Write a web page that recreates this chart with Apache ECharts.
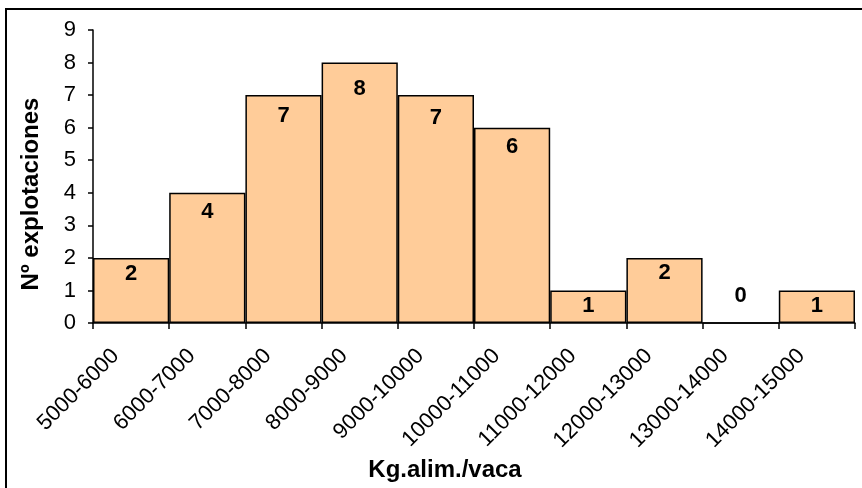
<!DOCTYPE html>
<html>
<head>
<meta charset="utf-8">
<script src="https://cdn.jsdelivr.net/npm/echarts@6/dist/echarts.min.js"></script>
<style>
  html, body { margin: 0; padding: 0; background: #fff; }
  #chart { width: 862px; height: 488px; }
</style>
</head>
<body>
<div id="chart"></div>
<script>
// Feed-per-cow ranges (kg) and number of farms in each range
const categories = ['5000-6000', '6000-7000', '7000-8000', '8000-9000', '9000-10000',
                    '10000-11000', '11000-12000', '12000-13000', '13000-14000', '14000-15000'];
const farms = [2, 4, 7, 8, 7, 6, 1, 2, 0, 1];
const yTicks = [0, 1, 2, 3, 4, 5, 6, 7, 8, 9];

// gap (px) between each bar's top and its value label
const labelGap = [5, 8, 10, 15, 12, 8, 4, 4, 15, 4];

const FONT = '"Liberation Sans", Arial, sans-serif';

const chart = echarts.init(document.getElementById('chart'), null, { renderer: 'canvas' });

const barData = farms.map((v, i) => {
  const item = { value: v, label: { distance: labelGap[i] } };
  if (v === 0) {
    // an empty bar keeps its label floating above the axis
    item.label.position = 'top';
  }
  return item;
});

chart.setOption({
  animation: false,
  backgroundColor: '#ffffff',
  grid: { left: 93, right: 7, top: 30, bottom: 165, containLabel: false },
  xAxis: {
    type: 'category',
    data: categories,
    boundaryGap: true,
    axisLine: { lineStyle: { color: '#000', width: 1.5 } },
    axisTick: { show: true, length: 6, inside: false, lineStyle: { color: '#000', width: 1.5 } },
    axisLabel: {
      rotate: 45,
      interval: 0,
      margin: 14,
      padding: [0, 22, 0, 0],
      color: '#000',
      fontFamily: FONT,
      fontSize: 22
    }
  },
  yAxis: {
    type: 'value',
    min: yTicks[0],
    max: yTicks[yTicks.length - 1],
    interval: 1,
    splitLine: { show: false },
    axisLine: { show: true, lineStyle: { color: '#000', width: 1.5 } },
    axisTick: { show: true, length: 5, inside: false, lineStyle: { color: '#000', width: 1.5 } },
    axisLabel: {
      margin: 17,
      color: '#000',
      fontFamily: FONT,
      fontSize: 22
    }
  },
  series: [{
    type: 'bar',
    data: barData,
    barCategoryGap: '0%',
    itemStyle: { color: '#FFCC99', borderColor: '#000', borderWidth: 1.5 },
    label: {
      show: true,
      position: 'insideTop',
      color: '#000',
      fontFamily: FONT,
      fontWeight: 'bold',
      fontSize: 22
    }
  }],
  graphic: [
    {
      type: 'rect',
      shape: { x: 6, y: 9, width: 900, height: 520 },
      style: { fill: null, stroke: '#000', lineWidth: 2 },
      silent: true,
      z: 100
    },
    {
      type: 'text',
      x: 445,
      y: 470,
      style: {
        text: 'Kg.alim./vaca',
        fill: '#000',
        font: 'bold 24px ' + FONT,
        align: 'center',
        verticalAlign: 'middle'
      }
    },
    {
      type: 'text',
      x: 31,
      y: 194,
      rotation: Math.PI / 2,
      style: {
        text: 'Nº explotaciones',
        fill: '#000',
        font: 'bold 24px ' + FONT,
        align: 'center',
        verticalAlign: 'middle'
      }
    }
  ]
});
</script>
</body>
</html>
